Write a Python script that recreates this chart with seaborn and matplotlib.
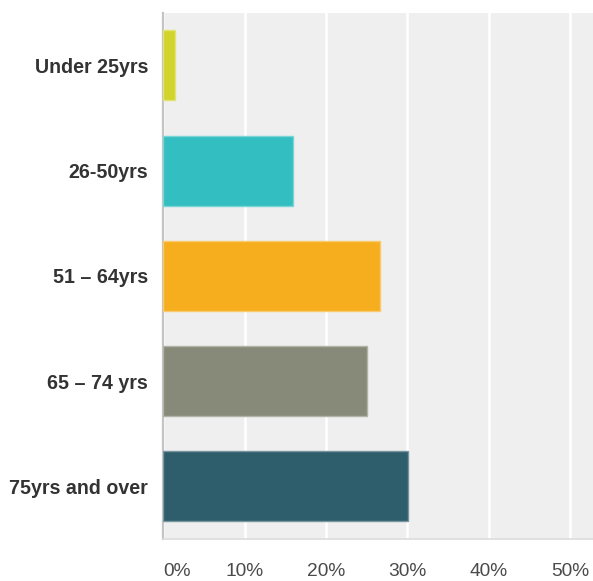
import matplotlib
matplotlib.use("Agg")
import matplotlib.pyplot as plt
import matplotlib.colors as mcolors
import seaborn as sns
import pandas as pd

categories = ["Under 25yrs", "26-50yrs", "51 \u2013 64yrs", "65 \u2013 74 yrs", "75yrs and over"]
values = [1.5, 15.9, 26.6, 25.1, 30.1]
colors = ["#d1d52b", "#33bec1", "#f6ae1f", "#878a78", "#2e5e6b"]
tick_values = [0, 10, 20, 30, 40, 50]
tick_labels = ["0%", "10%", "20%", "30%", "40%", "50%"]

df = pd.DataFrame({"cat": categories, "val": values})

sns.set_theme(style="white")
plt.rcParams["font.family"] = ["Liberation Sans", "DejaVu Sans"]

fig = plt.figure(figsize=(5.93, 5.81), dpi=100)
ax = fig.add_axes([163.3 / 593, 1 - 539 / 581, 1 - 163.3 / 593, (539 - 12.7) / 581])
ax.set_facecolor("#efefef")

sns.barplot(data=df, x="val", y="cat", hue="cat", palette=colors, legend=False,
            orient="h", width=0.666, saturation=1, ax=ax, zorder=3)

for patch, c in zip(ax.patches, colors):
    rgb = mcolors.to_rgb(c)
    light = tuple(0.65 * v + 0.35 for v in rgb)
    patch.set_edgecolor(light)
    patch.set_linewidth(1.0)

ax.set_xlim(0, 52.85)
ax.set_ylim(4.5, -0.5)
ax.set_xticks(tick_values)
ax.set_xticklabels(tick_labels)
ax.grid(axis="x", color="white", linewidth=1.8, zorder=1)
ax.set_axisbelow(True)

for s in ["top", "right"]:
    ax.spines[s].set_visible(False)
ax.spines["left"].set_color("#c4c4c4")
ax.spines["left"].set_linewidth(1.6)
ax.spines["bottom"].set_color("#dcdcdc")
ax.spines["bottom"].set_linewidth(1.2)

ax.tick_params(axis="x", length=0, pad=17, labelsize=13.8, labelcolor="#4a4a4a")
ax.tick_params(axis="y", length=0, pad=11, labelsize=14.1, labelcolor="#333333")
for lbl in ax.get_yticklabels():
    lbl.set_fontweight("bold")
xl = ax.get_xticklabels()
xl[0].set_ha("left")

ax.set_xlabel("")
ax.set_ylabel("")

fig.savefig("out.png", dpi=100, facecolor="white")
